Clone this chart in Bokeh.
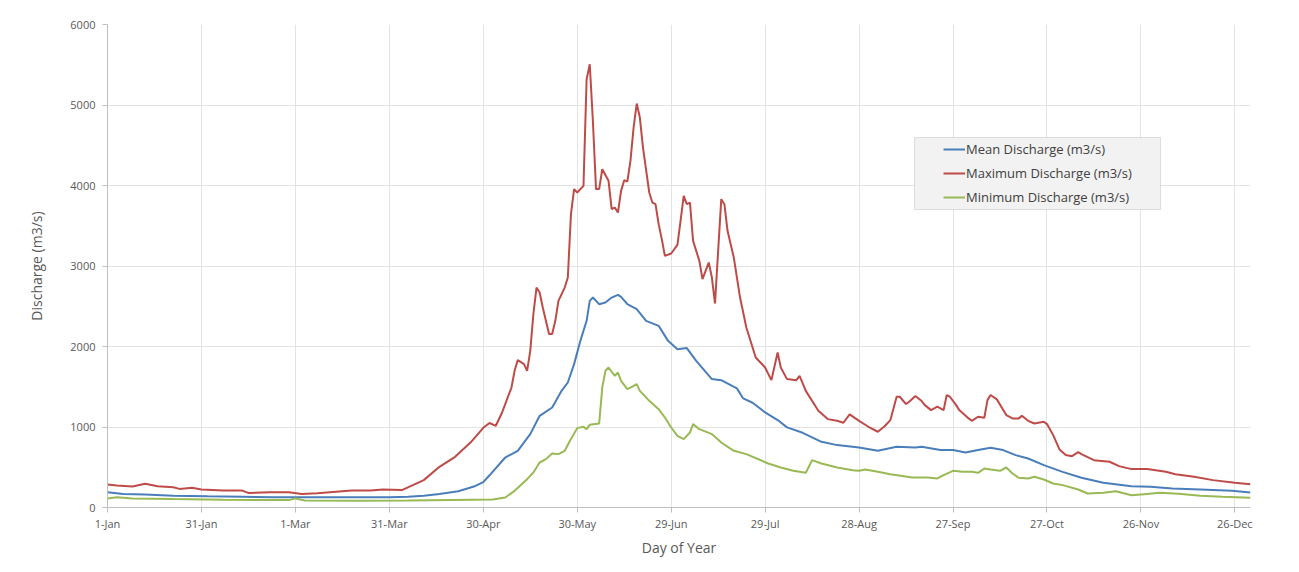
from bokeh.plotting import figure
from bokeh.models import (Range1d, FixedTicker, Legend, LegendItem, BoxAnnotation)
from bokeh.embed import file_html
from bokeh.resources import INLINE

# ---- data (day of year, 0 = 1-Jan) ----
max_days = [0, 3, 8, 12, 16, 21, 23, 27, 30, 37, 43, 45, 52, 58, 62, 67, 71, 78, 84, 88, 94,
            101, 106, 111, 116, 120, 122, 124, 126, 129, 130, 131, 133, 134, 135, 136, 137, 138,
            139, 141, 142, 143, 144, 146, 147, 148, 149, 150, 152, 153, 154, 155, 156, 157, 158,
            160, 161, 162, 163, 164, 165, 166, 167, 168, 169, 170, 171, 173, 174, 175, 176, 177,
            178, 180, 182, 183, 184, 185, 186, 187, 189, 190, 191, 192, 193, 194, 195, 196, 197,
            198, 200, 202, 204, 207, 210, 212, 214, 215, 217, 220, 221, 223, 227, 230, 233, 235,
            237, 240, 243, 246, 248, 250, 252, 253, 255, 256, 258, 260, 261, 263, 265, 267, 268,
            269, 271, 272, 275, 276, 278, 280, 281, 282, 284, 287, 289, 291, 292, 294, 296, 299,
            300, 302, 304, 306, 308, 310, 311, 315, 320, 323, 327, 332, 338, 341, 347, 353, 360, 365]
max_vals = [286, 273, 260, 294, 265, 252, 231, 244, 223, 210, 210, 181, 189, 189, 168, 176, 189, 210, 210, 223, 216,
            340, 505, 630, 810, 990, 1050, 1015, 1180, 1490, 1698, 1831, 1781, 1698, 1946, 2402, 2732, 2670,
            2484, 2154, 2154, 2319, 2567, 2732, 2857, 3644, 3955, 3913, 3995, 5320, 5507, 4804, 3955, 3955, 4203,
            4058, 3706, 3726, 3664, 3933, 4066, 4049, 4306, 4720, 5018, 4844, 4471, 3913, 3788, 3768, 3520, 3334,
            3126, 3155, 3263, 3561, 3871, 3768, 3788, 3312, 3064, 2837, 2940, 3043, 2857, 2534, 3188, 3830, 3768,
            3437, 3105, 2608, 2236, 1863, 1739, 1582, 1925, 1739, 1595, 1582, 1636, 1449, 1201, 1098, 1077, 1053,
            1156, 1077, 1003, 941, 1003, 1086, 1376, 1376, 1285, 1314, 1384, 1322, 1272, 1210, 1252, 1210, 1397,
            1376, 1272, 1210, 1107, 1077, 1127, 1115, 1334, 1397, 1343, 1148, 1107, 1107, 1140, 1077, 1044, 1065,
            1036, 899, 721, 651, 638, 688, 663, 588, 568, 514, 477, 477, 443, 414, 381, 340, 307, 290]

mean_days = [0, 5, 12, 21, 32, 43, 53, 69, 90, 96, 101, 106, 112, 117, 120, 122, 127, 131, 135, 138,
             142, 145, 147, 149, 151, 153, 154, 155, 157, 159, 161, 163, 164, 166, 169, 172, 176, 179,
             182, 185, 188, 193, 196, 199, 201, 203, 206, 210, 214, 217, 222, 228, 233, 240, 246, 252,
             258, 260, 266, 270, 274, 278, 282, 286, 290, 294, 299, 305, 311, 318, 327, 333, 340, 349, 359, 365]
mean_vals = [189, 168, 160, 147, 139, 134, 126, 126, 126, 134, 147, 168, 202, 260, 315, 400, 621, 704, 912, 1139,
             1242, 1449, 1553, 1781, 2070, 2319, 2567, 2608, 2526, 2546, 2608, 2642, 2617, 2526, 2464, 2319, 2257, 2070,
             1967, 1980, 1822, 1595, 1582, 1521, 1480, 1355, 1301, 1181, 1086, 995, 928, 816, 775, 746, 705, 754,
             746, 754, 713, 713, 684, 713, 742, 713, 651, 609, 526, 443, 369, 307, 265, 257, 236, 224, 207, 186]

min_days = [0, 3, 8, 21, 37, 58, 60, 63, 80, 96, 123, 127, 130, 134, 136, 138, 140, 142, 144, 146, 148,
            150, 152, 153, 154, 157, 158, 159, 160, 162, 163, 164, 166, 167, 169, 170, 173, 176, 178, 180,
            182, 184, 186, 187, 189, 193, 196, 200, 204, 211, 215, 219, 223, 225, 228, 233, 238, 240, 242,
            246, 250, 257, 262, 265, 267, 270, 273, 276, 278, 280, 282, 285, 287, 289, 291, 294, 296, 299,
            302, 305, 310, 313, 318, 322, 327, 331, 336, 342, 349, 356, 365]
min_vals = [113, 126, 113, 105, 97, 92, 113, 88, 84, 88, 100, 124, 207, 352, 435, 559, 601, 671, 663, 704, 850,
            986, 1002, 973, 1027, 1043, 1490, 1698, 1739, 1636, 1677, 1574, 1470, 1490, 1532, 1449, 1325, 1222, 1118, 994,
            891, 850, 932, 1036, 973, 912, 807, 704, 663, 547, 497, 456, 431, 588, 547, 497, 464, 456, 472,
            443, 414, 373, 373, 361, 402, 456, 443, 443, 431, 485, 472, 456, 497, 423, 369, 361, 381, 348,
            298, 278, 224, 174, 182, 203, 153, 166, 182, 170, 145, 133, 120]

x_tick_days = [0, 30, 60, 90, 120, 150, 180, 210, 240, 270, 300, 330, 360]
x_tick_labels = ["1-Jan", "31-Jan", "1-Mar", "31-Mar", "30-Apr", "30-May", "29-Jun",
                 "29-Jul", "28-Aug", "27-Sep", "27-Oct", "26-Nov", "26-Dec"]
y_ticks = [0, 1000, 2000, 3000, 4000, 5000, 6000]

series_names = ["Mean Discharge (m3/s)", "Maximum Discharge (m3/s)", "Minimum Discharge (m3/s)"]
series_colors = ["#4a7ebb", "#be4b48", "#98b954"]

FONT = "Open Sans"
W, H = 1278, 564

p = figure(width=W, height=H, output_backend="svg", toolbar_location=None,
           x_range=Range1d(0, 365), y_range=Range1d(0, 6000),
           min_border_left=107, min_border_right=28, min_border_top=24, min_border_bottom=57)
p.outline_line_color = None
p.background_fill_color = "white"
p.border_fill_color = "white"

# axes
p.xaxis.ticker = FixedTicker(ticks=x_tick_days)
p.xaxis.major_label_overrides = {d: l for d, l in zip(x_tick_days, x_tick_labels)}
p.yaxis.ticker = FixedTicker(ticks=y_ticks)
for ax in (p.xaxis, p.yaxis):
    ax.axis_line_color = "#bfbfbf"
    ax.major_tick_line_color = "#bfbfbf"
    ax.major_tick_out = 5
    ax.major_tick_in = 0
    ax.minor_tick_line_color = None
    ax.major_label_text_font = FONT
    ax.major_label_text_font_size = "11px"
    ax.major_label_text_color = "#595959"
    ax.axis_label_text_font = FONT
    ax.axis_label_text_font_size = "14px"
    ax.axis_label_text_font_style = "normal"
    ax.axis_label_text_color = "#595959"
p.xaxis.axis_label = "Day of Year"
p.yaxis.axis_label = "Discharge (m3/s)"
p.xaxis.major_label_standoff = 3
p.yaxis.major_label_standoff = 7
p.xaxis.axis_label_standoff = 4
p.yaxis.axis_label_standoff = 21

p.xgrid.ticker = FixedTicker(ticks=x_tick_days)
p.ygrid.ticker = FixedTicker(ticks=y_ticks)
p.xgrid.grid_line_color = "#e3e3e3"
p.ygrid.grid_line_color = "#e3e3e3"

# lines
r_mean = p.line(mean_days, mean_vals, line_color=series_colors[0], line_width=2)
r_max = p.line(max_days, max_vals, line_color=series_colors[1], line_width=2)
r_min = p.line(min_days, min_vals, line_color=series_colors[2], line_width=2)

# left page edge line and legend box
p.add_layout(BoxAnnotation(left=7, right=8, top=0, bottom=H,
                           left_units="canvas", right_units="canvas",
                           top_units="canvas", bottom_units="canvas",
                           fill_color="#d0d0d0", fill_alpha=1, line_color=None))
p.add_layout(BoxAnnotation(left=914, right=1160, top=137, bottom=209,
                           left_units="canvas", right_units="canvas",
                           top_units="canvas", bottom_units="canvas",
                           fill_color="#f2f2f2", fill_alpha=1,
                           line_color="#a0a0a0", line_width=1))

legend = Legend(items=[LegendItem(label=series_names[0], renderers=[r_mean]),
                       LegendItem(label=series_names[1], renderers=[r_max]),
                       LegendItem(label=series_names[2], renderers=[r_min])],
                location=(836, 298))
legend.padding = 0
legend.margin = 0
legend.spacing = 0
legend.border_line_color = None
legend.background_fill_alpha = 0
legend.glyph_width = 22
legend.glyph_height = 24
legend.label_height = 24
legend.label_standoff = 1
legend.label_text_font = FONT
legend.label_text_font_size = "13px"
legend.label_text_color = "#404040"
p.add_layout(legend)

open("out.html", "w").write(file_html(p, INLINE))
